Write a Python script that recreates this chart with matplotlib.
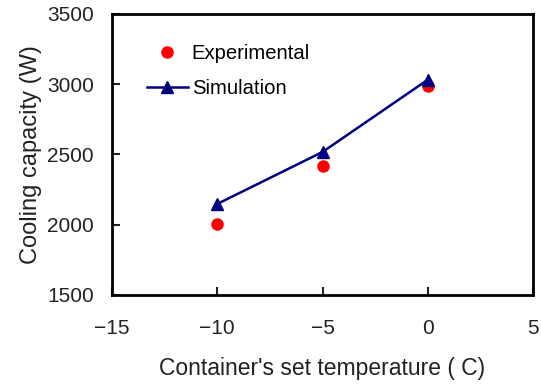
import matplotlib
matplotlib.use("Agg")
import matplotlib.pyplot as plt

temps = [-10, -5, 0]
experimental = [2005, 2418, 2988]
simulation = [2148, 2518, 3032]
xticks = [-15, -10, -5, 0, 5]
yticks = [1500, 2000, 2500, 3000, 3500]

plt.rcParams['font.family'] = ['Liberation Sans', 'DejaVu Sans']

fig = plt.figure(figsize=(5.41, 3.85), dpi=100)
ax = fig.add_axes([112/541, 1-295/385, (533-112)/541, (295-14)/385])

ax.plot(temps, experimental, 'o', color='#ff0000', markersize=8, label='Experimental', linestyle='none')
ax.plot(temps, simulation, '-^', color='#000080', markersize=8, linewidth=1.8, label='Simulation')

ax.set_xlim(-15, 5)
ax.set_ylim(1500, 3500)
ax.set_xticks(xticks)
ax.set_yticks(yticks)
ax.set_xticklabels(['\u221215', '\u221210', '\u22125', '0', '5'])
ax.tick_params(direction='in', length=6, width=1.5, labelsize=15, colors='#222222')
ax.tick_params(axis='x', pad=17)
ax.tick_params(axis='y', pad=13)
for s in ax.spines.values():
    s.set_linewidth(2)

ax.set_xlabel("Container's set temperature ( C)", fontsize=16.5, labelpad=14, color='#222222')
ax.set_ylabel('Cooling capacity (W)', fontsize=17, labelpad=4, color='#222222')

leg = ax.legend(loc='upper left', bbox_to_anchor=(0.04, 0.958), frameon=False, fontsize=14.6,
                handlelength=2.0, handletextpad=0.2, labelspacing=0.78)

fig.savefig('out.png', dpi=100)
